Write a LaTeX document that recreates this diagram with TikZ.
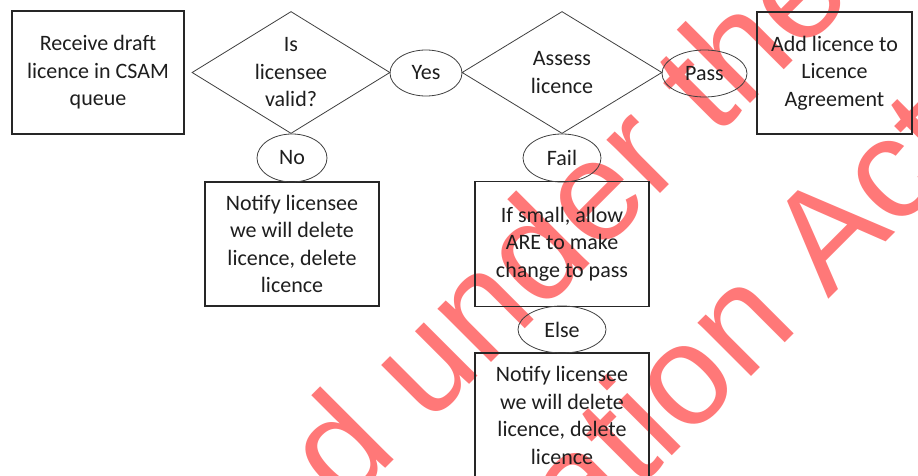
\documentclass[tikz,border=0pt]{standalone}
\usepackage{fontspec}
\setmainfont{Carlito}
\newfontfamily\wmfont{Liberation Sans}
\usetikzlibrary{shapes.geometric}
\definecolor{ink}{RGB}{30,30,30}
\definecolor{wmred}{RGB}{255,120,120}
\tikzset{
  txt/.style={font=\fontsize{22}{27.5}\selectfont, text=ink, align=center},
  boxnode/.style={draw=black!85, line width=1.1pt, rectangle, inner sep=0pt, txt},
  ovalnode/.style={draw=black!75, line width=0.8pt, ellipse, inner sep=0pt, txt},
  dianode/.style={draw=black!75, line width=0.8pt, diamond, inner sep=0pt},
  wmark/.style={font=\wmfont\fontsize{143}{143}\selectfont, text=wmred, anchor=base west, rotate=45, inner sep=0pt}
}
\begin{document}
\begin{tikzpicture}[x=1pt, y=-1pt]
\useasboundingbox (0,0) rectangle (918,476);
\fill[white] (0,0) rectangle (918,476);
\clip (0,0) rectangle (918,476);

% watermark (behind the chart)
\node[wmark] (wm1) at (344,510) {d under the};
\node[wmark] (wm2) at (581,547) {ation Act};

% boxes
\node[boxnode, minimum width=172pt, minimum height=123pt] (receive) at (98,72.5) {Receive draft\\licence in CSAM\\queue};
\node[boxnode, minimum width=155pt, minimum height=122pt] (add) at (834.5,73) {Add licence to\\Licence\\Agreement};
\node[boxnode, minimum width=174pt, minimum height=124pt] (notify1) at (292,244) {Notify licensee\\we will delete\\licence, delete\\licence};
\node[boxnode, minimum width=174pt, minimum height=125pt] (small) at (562,244) {If small, allow\\ARE to make\\change to pass};
\node[boxnode, minimum width=174pt, minimum height=125pt] (notify2) at (562,415.5) {Notify licensee\\we will delete\\licence, delete\\licence};

% decisions
\node[dianode, minimum width=198pt, minimum height=122pt, label={[txt]center:Is\\licensee\\valid?}] (valid) at (291,72.5) {};
\node[dianode, minimum width=200pt, minimum height=122pt, label={[txt]center:Assess\\licence}] (assess) at (562,72.5) {};

% outcome ovals
\node[ovalnode, minimum width=72pt, minimum height=46pt] (yes) at (426,73) {Yes};
\node[ovalnode, minimum width=85pt, minimum height=47pt] (pass) at (704.5,73.5) {Pass};
\node[ovalnode, minimum width=70pt, minimum height=48pt] (no) at (292,158) {No};
\node[ovalnode, minimum width=78pt, minimum height=48pt] (fail) at (562,158) {Fail};
\node[ovalnode, minimum width=88pt, minimum height=47pt] (else) at (562,329.5) {Else};
\end{tikzpicture}
\end{document}
